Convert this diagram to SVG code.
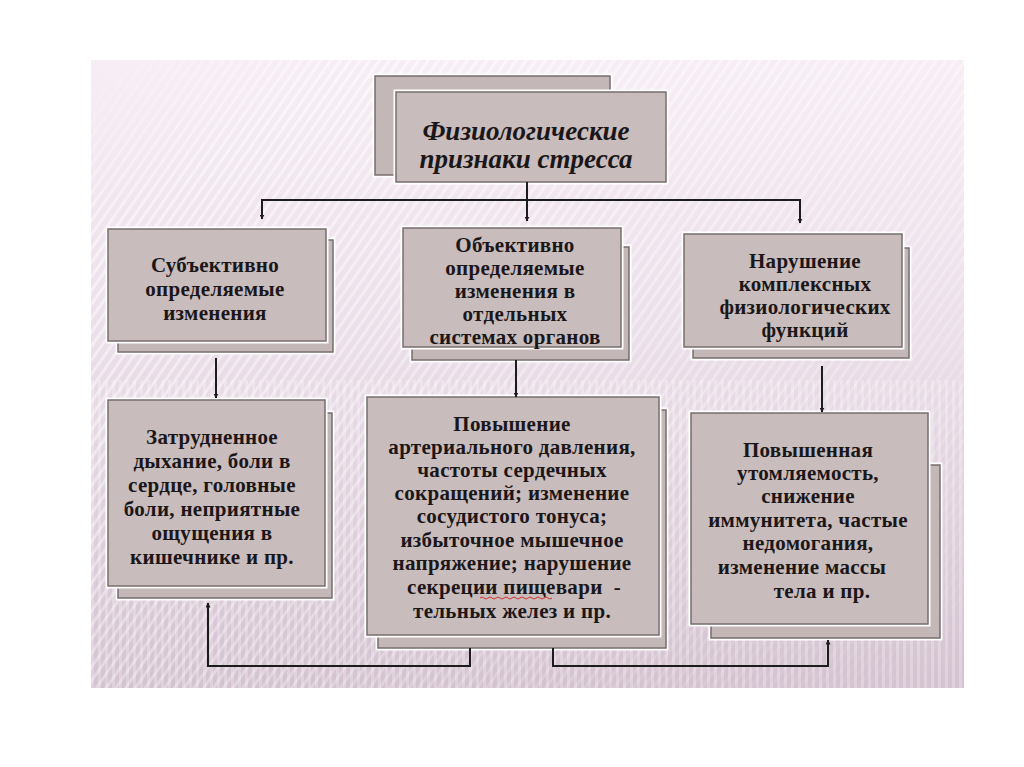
<svg xmlns="http://www.w3.org/2000/svg" width="1024" height="767" viewBox="0 0 1024 767">
  <defs>
    <linearGradient id="bg" x1="0" y1="0" x2="0" y2="1">
      <stop offset="0" stop-color="#f7eef5"/>
      <stop offset="0.45" stop-color="#ebdfe9"/>
      <stop offset="1" stop-color="#d4c2d0"/>
    </linearGradient>
    <pattern id="diag" width="8" height="8" patternUnits="userSpaceOnUse" patternTransform="rotate(35)">
      <rect width="3" height="8" fill="#ffffff" opacity="0.5"/>
    </pattern>
    <pattern id="vert" width="7" height="10" patternUnits="userSpaceOnUse">
      <rect width="3" height="10" fill="#ffffff" opacity="0.25"/>
    </pattern>
    <linearGradient id="fadeDiag" x1="0" y1="0" x2="1" y2="1">
      <stop offset="0" stop-color="#fff" stop-opacity="0"/>
      <stop offset="0.15" stop-color="#fff" stop-opacity="1"/>
      <stop offset="0.6" stop-color="#fff" stop-opacity="0.6"/>
      <stop offset="1" stop-color="#fff" stop-opacity="0"/>
    </linearGradient>
    <mask id="mDiag">
      <rect x="91" y="60" width="873" height="628" fill="url(#fadeDiag)"/>
    </mask>
    <marker id="arr" viewBox="0 0 10 10" refX="9" refY="5" markerWidth="5" markerHeight="5" orient="auto" markerUnits="userSpaceOnUse">
      <path d="M0,0 L10,5 L0,10 z" fill="#1c1c1c"/>
    </marker>
    <style>
      .box { fill: #c9bcbd; stroke: #776d6e; stroke-width: 1.5; }
      .back { fill: #c4b7b8; stroke: #776d6e; stroke-width: 1.5; }
      .edge { fill: none; stroke: #ffffff; stroke-width: 5; }
      .t { font-family: "Liberation Serif", "DejaVu Serif", serif; font-weight: bold; font-size: 21px; letter-spacing: 0.3px; fill: #1b1718; text-anchor: middle; }
      .title { font-family: "Liberation Serif", "DejaVu Serif", serif; font-weight: bold; font-style: italic; font-size: 27px; fill: #1b1718; text-anchor: middle; }
      .c { fill: none; stroke: #1c1c1c; stroke-width: 2; }
    </style>
  </defs>

  <rect width="1024" height="767" fill="#ffffff"/>
  <rect x="91" y="60" width="873" height="628" fill="url(#bg)"/>
  <rect x="91" y="60" width="873" height="628" fill="url(#diag)" mask="url(#mDiag)"/>
  <rect x="91" y="380" width="873" height="308" fill="url(#vert)"/>

  <g id="title">
    <rect class="edge" x="375" y="76" width="235" height="99"/>
    <rect class="back" x="375" y="76" width="235" height="99"/>
    <rect class="edge" x="396" y="92" width="270" height="90"/>
    <rect class="box" x="396" y="92" width="270" height="90"/>
    <text class="title" x="526" y="140">Физиологические</text>
    <text class="title" x="526" y="168">признаки стресса</text>
  </g>

  <g id="n1">
    <rect class="edge" x="118" y="240" width="215" height="112"/>
    <rect class="back" x="118" y="240" width="215" height="112"/>
    <rect class="edge" x="108" y="229" width="218" height="112"/>
    <rect class="box" x="108" y="229" width="218" height="112"/>
    <text class="t" x="215" y="272">Субъективно</text>
    <text class="t" x="215" y="296">определяемые</text>
    <text class="t" x="215" y="320">изменения</text>
  </g>

  <g id="n2">
    <rect class="edge" x="412" y="247" width="217" height="113"/>
    <rect class="back" x="412" y="247" width="217" height="113"/>
    <rect class="edge" x="403" y="228" width="218" height="119"/>
    <rect class="box" x="403" y="228" width="218" height="119"/>
    <text class="t" x="515" y="252">Объективно</text>
    <text class="t" x="515" y="275">определяемые</text>
    <text class="t" x="515" y="298">изменения в</text>
    <text class="t" x="515" y="321">отдельных</text>
    <text class="t" x="515" y="344">системах органов</text>
  </g>

  <g id="n3">
    <rect class="edge" x="693" y="248" width="216" height="110"/>
    <rect class="back" x="693" y="248" width="216" height="110"/>
    <rect class="edge" x="684" y="234" width="218" height="113"/>
    <rect class="box" x="684" y="234" width="218" height="113"/>
    <text class="t" x="805" y="268">Нарушение</text>
    <text class="t" x="805" y="291">комплексных</text>
    <text class="t" x="805" y="314">физиологических</text>
    <text class="t" x="805" y="337">функций</text>
  </g>

  <g id="n4">
    <rect class="edge" x="118" y="413" width="214" height="185"/>
    <rect class="back" x="118" y="413" width="214" height="185"/>
    <rect class="edge" x="108" y="400" width="217" height="186"/>
    <rect class="box" x="108" y="400" width="217" height="186"/>
    <text class="t" x="212" y="444">Затрудненное</text>
    <text class="t" x="212" y="468">дыхание, боли в</text>
    <text class="t" x="212" y="492">сердце, головные</text>
    <text class="t" x="212" y="516">боли, неприятные</text>
    <text class="t" x="212" y="540">ощущения в</text>
    <text class="t" x="212" y="564">кишечнике и пр.</text>
  </g>

  <g id="n5">
    <rect class="edge" x="378" y="410" width="288" height="238"/>
    <rect class="back" x="378" y="410" width="288" height="238"/>
    <rect class="edge" x="367" y="397" width="292" height="238"/>
    <rect class="box" x="367" y="397" width="292" height="238"/>
    <text class="t" x="512" y="431">Повышение</text>
    <text class="t" x="512" y="454">артериального давления,</text>
    <text class="t" x="512" y="477">частоты сердечных</text>
    <text class="t" x="512" y="500">сокращений; изменение</text>
    <text class="t" x="512" y="523">сосудистого тонуса;</text>
    <text class="t" x="512" y="547">избыточное мышечное</text>
    <text class="t" x="512" y="570">напряжение; нарушение</text>
    <text class="t" x="514" y="594">секреции пищевари&#160;&#160;-</text>
    <path d="M480,598 q2,-2 4,0 t4,0 t4,0 t4,0 t4,0 t4,0 t4,0 t4,0 t4,0 t4,0 t4,0 t4,0 t4,0 t4,0 t4,0 t4,0 t4,0 t4,0" fill="none" stroke="#d03030" stroke-width="1"/>
    <text class="t" x="512" y="618">тельных желез и пр.</text>
  </g>

  <g id="n6">
    <rect class="edge" x="711" y="465" width="229" height="173"/>
    <rect class="back" x="711" y="465" width="229" height="173"/>
    <rect class="edge" x="691" y="413" width="237" height="211"/>
    <rect class="box" x="691" y="413" width="237" height="211"/>
    <text class="t" x="808" y="457">Повышенная</text>
    <text class="t" x="808" y="480">утомляемость,</text>
    <text class="t" x="808" y="503">снижение</text>
    <text class="t" x="808" y="527">иммунитета, частые</text>
    <text class="t" x="808" y="550">недомогания,</text>
    <text class="t" x="802" y="574">изменение массы</text>
    <text class="t" x="822" y="598">тела и пр.</text>
  </g>

  <g id="connectors">
    <path class="c" d="M527,182 V221" marker-end="url(#arr)"/>
    <path class="c" d="M262,200 H800"/>
    <path class="c" d="M262,199 V219" marker-end="url(#arr)"/>
    <path class="c" d="M800,199 V223" marker-end="url(#arr)"/>
    <path class="c" d="M216,358 V398" marker-end="url(#arr)"/>
    <path class="c" d="M516,360 V397" marker-end="url(#arr)"/>
    <path class="c" d="M822,366 V412" marker-end="url(#arr)"/>
    <path class="c" d="M470,648 V666 H208 V603" marker-end="url(#arr)"/>
    <path class="c" d="M553,648 V666 H828 V640" marker-end="url(#arr)"/>
  </g>
</svg>
